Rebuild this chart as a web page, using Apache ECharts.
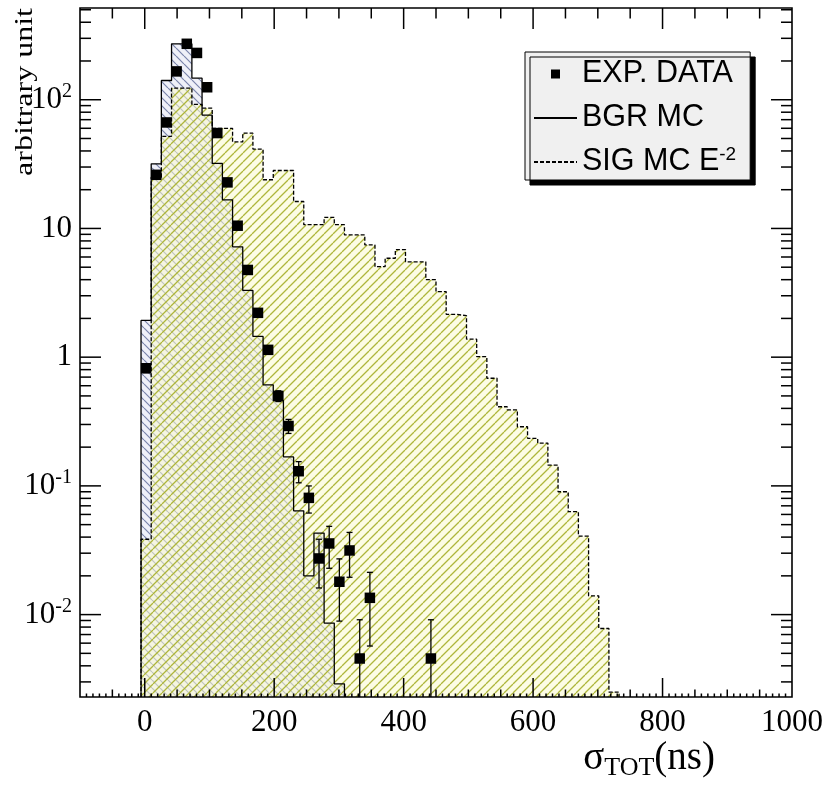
<!DOCTYPE html>
<html>
<head>
<meta charset="utf-8">
<script src="https://cdn.jsdelivr.net/npm/echarts@6/dist/echarts.min.js"></script>
<style>
html,body{margin:0;padding:0;background:#fff;}
#chart{width:827px;height:800px;}
</style>
</head>
<body>
<div id="chart"></div>
<script>
// Histogram binning: 70 equal bins from -100 to 1000 ns
const BIN_LO = -100, BIN_HI = 1000, N_BINS = 70;
const FIRST_BIN = 6;            // index of the first filled bin

// Background MC, bin contents from FIRST_BIN on
const bgrMC = [1.93, 31.8, 141, 272, 272, 147, 76, 32, 16.7, 7.2,
               3.3, 1.45, 0.61, 0.46, 0.168, 0.064, 0.020, 0.043, 0.0086, 0.0029];

// Signal MC (E^-2 spectrum), bin contents from FIRST_BIN on
const sigMC = [0.0385, 25, 52, 123, 123, 92, 86, 60, 60, 47,
               55, 41.4, 23.9, 28.2, 28.2, 16.2, 10.7, 10.7, 12.2, 10.7,
               8.9, 8.9, 7.45, 5.05, 5.87, 6.85, 5.5, 5.5, 4.0, 3.23,
               2.15, 2.1, 1.38, 1.01, 0.686, 0.412, 0.39, 0.288, 0.234, 0.215,
               0.145, 0.090, 0.063, 0.0407, 0.0140, 0.0078, 0.0025];

// Experimental data and its errors, bins from FIRST_BIN on (null = empty)
const expData = [0.82, 26.1, 66.6, 166, 272, 231, 125, 55.1, 22.8, 10.5,
                 4.76, 2.21, 1.14, 0.50, 0.292, 0.130, 0.0807, 0.0273, 0.0357, 0.0180,
                 0.0315, 0.00456, 0.0135, null, null, null, null, null, 0.00456];
const expErr  = [0.061, 0.345, 0.55, 0.87, 1.11, 1.03, 0.75, 0.50, 0.32, 0.22,
                 0.147, 0.100, 0.072, 0.048, 0.0365, 0.0243, 0.0192, 0.0112, 0.0128, 0.0091,
                 0.0120, 0.00456, 0.0078, null, null, null, null, null, 0.00456];

// Axis ranges and labels
const X_MIN = -100, X_MAX = 1000;
const Y_MIN = 0.00229, Y_MAX = 516;
const xTickLabels = [0, 200, 400, 600, 800, 1000];
const yDecades = [0.01, 0.1, 1, 10, 100];
const yDecadeText = ['{b|10}{s|-2}', '{b|10}{s|-1}', '1', '10', '{b|10}{s|2}'];

const binWidth = (BIN_HI - BIN_LO) / N_BINS;
const edge = k => BIN_LO + k * binWidth;
const centre = k => BIN_LO + (k + 0.5) * binWidth;

// Step outline of a histogram closed down to the bottom of the axis
function stepPoints(vals) {
  const pts = [[edge(FIRST_BIN), Y_MIN]];
  vals.forEach((v, i) => pts.push([edge(FIRST_BIN + i), v]));
  pts.push([edge(FIRST_BIN + vals.length), Y_MIN]);
  return pts;
}

// Hatch tile: dir > 0 draws '/', dir < 0 draws '\'
function hatch(size, dir, lineColor, bgColor, lw) {
  const c = document.createElement('canvas');
  c.width = size; c.height = size;
  const g = c.getContext('2d');
  if (bgColor) { g.fillStyle = bgColor; g.fillRect(0, 0, size, size); }
  g.strokeStyle = lineColor; g.lineWidth = lw;
  g.beginPath();
  for (const o of [-size, 0, size]) {
    if (dir > 0) { g.moveTo(o, size); g.lineTo(o + size, 0); }
    else { g.moveTo(o, 0); g.lineTo(o + size, size); }
  }
  g.stroke();
  return c;
}
const bgrFill = { image: hatch(8, -1, '#7a84ab', '#eff0f8', 1.2), repeat: 'repeat' };
const sigFill = { image: hatch(9, 1, 'rgba(170,178,50,0.95)', 'rgba(250,250,205,0.55)', 1.3), repeat: 'repeat' };

const expPts = [];
const errPts = [];
expData.forEach((v, i) => {
  if (v == null) return;
  expPts.push([centre(FIRST_BIN + i), v]);
  errPts.push([centre(FIRST_BIN + i), v, expErr[i]]);
});

// Error bars with small end caps
function renderErr(params, api) {
  const x = api.value(0), v = api.value(1), e = api.value(2);
  const cs = params.coordSys;
  const top = api.coord([x, v + e]);
  const lowVal = v - e;
  const bot = lowVal > Y_MIN ? api.coord([x, lowVal]) : [top[0], cs.y + cs.height];
  const st = { stroke: '#000', lineWidth: 1.3 };
  const ch = [{ type: 'line', shape: { x1: top[0], y1: top[1], x2: bot[0], y2: bot[1] }, style: st }];
  ch.push({ type: 'line', shape: { x1: top[0] - 3, y1: top[1], x2: top[0] + 3, y2: top[1] }, style: st });
  if (lowVal > Y_MIN) ch.push({ type: 'line', shape: { x1: bot[0] - 3, y1: bot[1], x2: bot[0] + 3, y2: bot[1] }, style: st });
  return { type: 'group', children: ch };
}

// Frame and tick marks on all four sides
function renderFrame(params, api) {
  const cs = params.coordSys;
  const L = cs.x, T = cs.y, R = cs.x + cs.width, B = cs.y + cs.height;
  const st = { stroke: '#000', lineWidth: 1.5 };
  const ch = [{ type: 'rect', shape: { x: L, y: T, width: cs.width, height: cs.height }, style: { stroke: '#000', fill: null, lineWidth: 1.6 } }];
  const line = (x1, y1, x2, y2) => ch.push({ type: 'line', shape: { x1, y1, x2, y2 }, style: st });
  // x ticks
  for (let v = X_MIN + 10; v < X_MAX; v += 10) {
    const px = api.coord([v, Y_MIN])[0];
    const lenB = v % 200 === 0 ? 19 : (v % 50 === 0 ? 7.5 : 3.5);
    line(px, B, px, B - lenB);
    if (v % 50 === 0) line(px, T, px, T + (v % 200 === 0 ? 21 : 10.5));
  }
  // y ticks
  for (let e = -3; e <= 2; e++) {
    for (let m = 1; m <= 9; m++) {
      const val = m * Math.pow(10, e);
      if (val <= Y_MIN || val >= Y_MAX) continue;
      const py = api.coord([X_MIN, val])[1];
      const len = m === 1 ? 21 : 11;
      line(L, py, L + len, py);
      line(R, py, R - len, py);
    }
  }
  return { type: 'group', children: ch };
}

const chart = echarts.init(document.getElementById('chart'), null, { renderer: 'canvas' });
const serif = '"Liberation Serif", "Times New Roman", serif';
const sans = '"Liberation Sans", Arial, sans-serif';

chart.setOption({
  animation: false,
  backgroundColor: '#fff',
  grid: { left: 80, right: 35, top: 8, bottom: 103, outerBoundsMode: 'none', containLabel: false },
  xAxis: {
    type: 'value', min: X_MIN, max: X_MAX, interval: 100,
    axisLine: { show: false }, axisTick: { show: false }, splitLine: { show: false },
    axisLabel: {
      margin: 10, color: '#000', fontFamily: serif, fontSize: 31,
      formatter: v => xTickLabels.indexOf(v) >= 0 ? String(v) : ''
    },
    name: '{s|σ}{sub|TOT}{p|(ns)}',
    nameLocation: 'end', nameGap: -77,
    nameTextStyle: {
      align: 'right', verticalAlign: 'top', padding: [40, 0, 0, 0],
      rich: {
        s: { fontFamily: serif, fontSize: 39, color: '#000' },
        sub: { fontFamily: serif, fontSize: 26, color: '#000', padding: [18, 0, 0, 0] },
        p: { fontFamily: serif, fontSize: 39, color: '#000' }
      }
    }
  },
  yAxis: {
    type: 'log', logBase: 10, min: Y_MIN, max: Y_MAX,
    axisLine: { show: false }, axisTick: { show: false }, splitLine: { show: false },
    axisLabel: {
      margin: 8, color: '#000', fontFamily: serif, fontSize: 31,
      showMinLabel: false, showMaxLabel: false,
      formatter: v => {
        for (let i = 0; i < yDecades.length; i++) {
          if (Math.abs(Math.log10(v) - Math.log10(yDecades[i])) < 1e-6) return yDecadeText[i];
        }
        return '';
      },
      rich: {
        b: { fontFamily: serif, fontSize: 31, color: '#000' },
        s: { fontFamily: serif, fontSize: 20, color: '#000', padding: [0, 0, 16, 0] }
      }
    }
  },
  legend: {
    orient: 'vertical', left: 525, top: 52,
    padding: [5, 14, 1, 8],
    itemWidth: 43, itemHeight: 9, itemGap: 10,
    backgroundColor: '#f0f0f0', borderColor: '#000', borderWidth: 1,
    shadowColor: '#000', shadowOffsetX: 5, shadowOffsetY: 5, shadowBlur: 0,
    selectedMode: false,
    textStyle: {
      fontFamily: sans, fontSize: 30.5, color: '#000', lineHeight: 34,
      rich: {
        t: { fontFamily: sans, fontSize: 30.5, color: '#000', lineHeight: 34 },
        sup: { fontFamily: sans, fontSize: 19, color: '#000', padding: [0, 0, 14, 0] }
      }
    },
    data: [
      { name: 'EXP. DATA', icon: 'path://M0,0h10v10h-10z', itemStyle: { color: '#000', opacity: 1 } },
      { name: 'BGR MC', itemStyle: { opacity: 0 } },
      { name: 'SIG MC', itemStyle: { opacity: 0 } }
    ],
    formatter: n => n === 'SIG MC' ? '{t|SIG MC E}{sup|-2}' : n
  },
  graphic: [{
    type: 'text', x: 26, y: 92, rotation: Math.PI / 2, scaleY: 0.76,
    style: { text: 'arbitrary unit', font: '32px ' + serif, fill: '#000', align: 'center', verticalAlign: 'middle' }
  }],
  series: [
    { type: 'line', name: 'BGR MC', data: stepPoints(bgrMC), step: 'end', symbol: 'none',
      itemStyle: { color: '#000' }, lineStyle: { color: '#000', width: 1.3 }, z: 4, silent: true },
    { type: 'line', name: 'SIG MC', data: stepPoints(sigMC), step: 'end', symbol: 'none',
      itemStyle: { color: '#000' }, lineStyle: { color: '#000', width: 1.3, type: [4, 2] }, z: 4, silent: true },
    { type: 'line', name: 'BGR MC', data: stepPoints(bgrMC), step: 'end', symbol: 'none',
      lineStyle: { width: 0, opacity: 0 }, areaStyle: { color: bgrFill, opacity: 1, origin: 'start' }, z: 1, silent: true },
    { type: 'line', name: 'SIG MC', data: stepPoints(sigMC), step: 'end', symbol: 'none',
      lineStyle: { width: 0, opacity: 0 }, areaStyle: { color: sigFill, opacity: 1, origin: 'start' }, z: 2, silent: true },
    { type: 'custom', name: 'errors', data: errPts, renderItem: renderErr, z: 5, silent: true },
    { type: 'scatter', name: 'EXP. DATA', data: expPts, symbol: 'rect', symbolSize: 10.5,
      itemStyle: { color: '#000', opacity: 1 }, z: 6, silent: true },
    { type: 'custom', name: 'frame', data: [[0, 1]], renderItem: renderFrame, z: 10, silent: true, clip: false }
  ]
});
</script>
</body>
</html>
